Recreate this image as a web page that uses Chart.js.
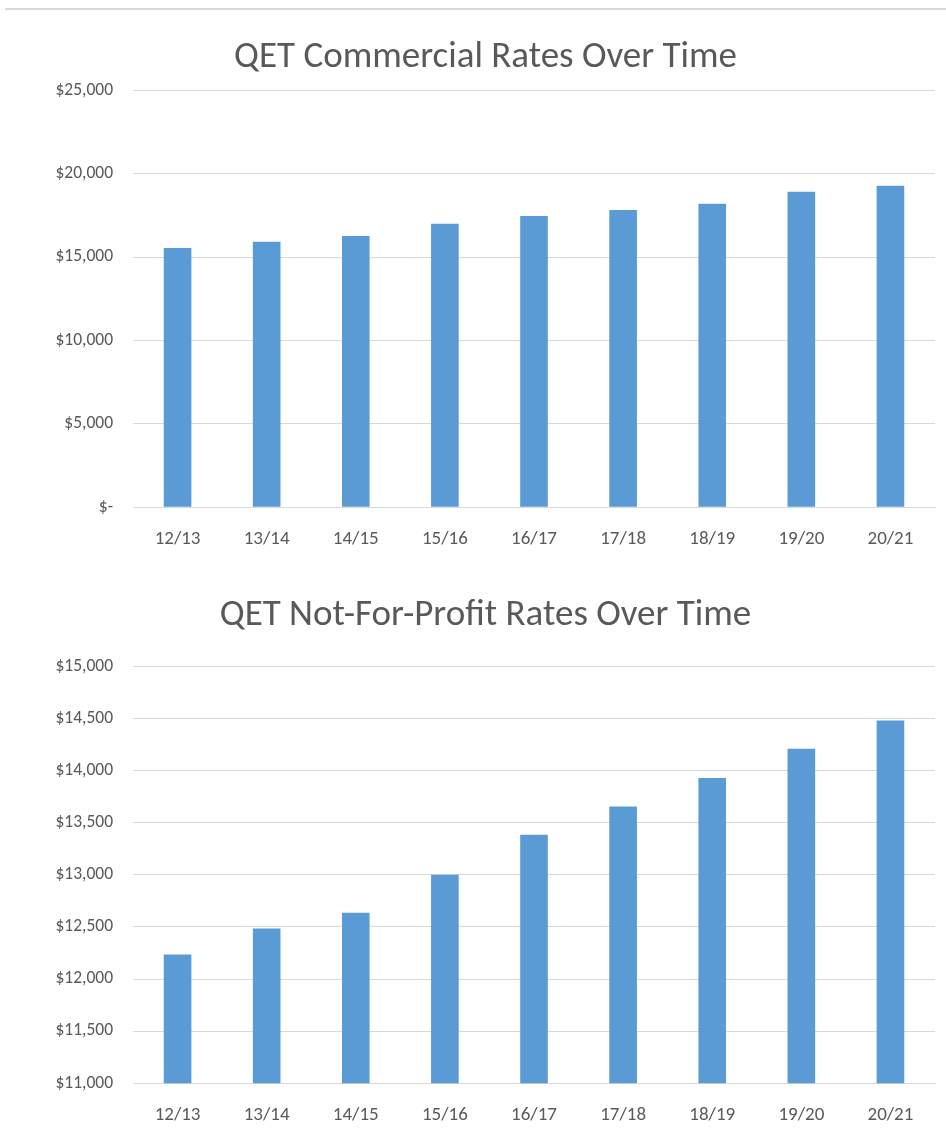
<!DOCTYPE html>
<html>
<head>
<meta charset="utf-8">
<script src="https://cdn.jsdelivr.net/npm/chart.js@4.4.2/dist/chart.umd.min.js"></script>
<style>
  html, body { margin: 0; padding: 0; background: #fff; overflow: hidden; }
  #page { position: relative; width: 946px; height: 1128px; overflow: hidden; }
  #rule { position: absolute; left: 5px; top: 8px; width: 941px; height: 2px; background: #d9d9d9; }
  .box { position: absolute; left: 0; width: 946px; }
  #box1 { top: 0; height: 572px; }
  #box2 { top: 567px; height: 581px; }
</style>
</head>
<body>
<div id="page">
  <div id="rule"></div>
  <div class="box" id="box1"><canvas id="commercialChart"></canvas></div>
  <div class="box" id="box2"><canvas id="nfpChart"></canvas></div>
</div>
<script>
const years = ['12/13', '13/14', '14/15', '15/16', '16/17', '17/18', '18/19', '19/20', '20/21'];
const commercialRates = [15540, 15920, 16260, 17000, 17460, 17820, 18200, 18920, 19280];
const notForProfitRates = [12235, 12485, 12636, 13000, 13385, 13656, 13928, 14210, 14482];
const commercialTicks = { min: 0, max: 25000, step: 5000 };
const nfpTicks = { min: 11000, max: 15000, step: 500 };

const FONT = 'Carlito, "Liberation Sans Narrow", "DejaVu Sans Condensed", "Open Sans", sans-serif';
const GREY = '#595959';

const money = value => value === 0 ? '$-' : '$' + value.toLocaleString('en-US');

function makeChart(id, title, values, range, titlePad) {
  return new Chart(document.getElementById(id), {
    type: 'bar',
    data: {
      labels: years,
      datasets: [{
        data: values,
        backgroundColor: '#5b9bd5',
        categoryPercentage: 1.0,
        barPercentage: 0.31
      }]
    },
    options: {
      animation: false,
      responsive: true,
      maintainAspectRatio: false,
      // left padding pushes the title centre over to where Excel put it
      layout: { padding: { left: 36, right: 11, top: 0, bottom: 0 } },
      plugins: {
        legend: { display: false },
        tooltip: { enabled: false },
        title: {
          display: true,
          text: title,
          color: GREY,
          font: { family: FONT, size: 37, weight: 'normal' },
          padding: titlePad
        }
      },
      scales: {
        x: {
          grid: { display: false, drawTicks: false },
          border: { color: '#d9d9d9', width: 1 },
          ticks: {
            color: GREY,
            padding: 21,
            font: { family: FONT, size: 19 }
          }
        },
        y: {
          min: range.min,
          max: range.max,
          afterFit: scale => { scale.width = 97; },
          grid: { color: '#d9d9d9', drawTicks: false },
          border: { display: false },
          ticks: {
            stepSize: range.step,
            color: GREY,
            padding: 20,
            font: { family: FONT, size: 17.5 },
            callback: value => money(value)
          }
        }
      }
    }
  });
}

makeChart('commercialChart', 'QET Commercial Rates Over Time', commercialRates, commercialTicks, { top: 36, bottom: 10 });
makeChart('nfpChart', 'QET Not-For-Profit Rates Over Time', notForProfitRates, nfpTicks, { top: 27, bottom: 28 });
</script>
</body>
</html>
